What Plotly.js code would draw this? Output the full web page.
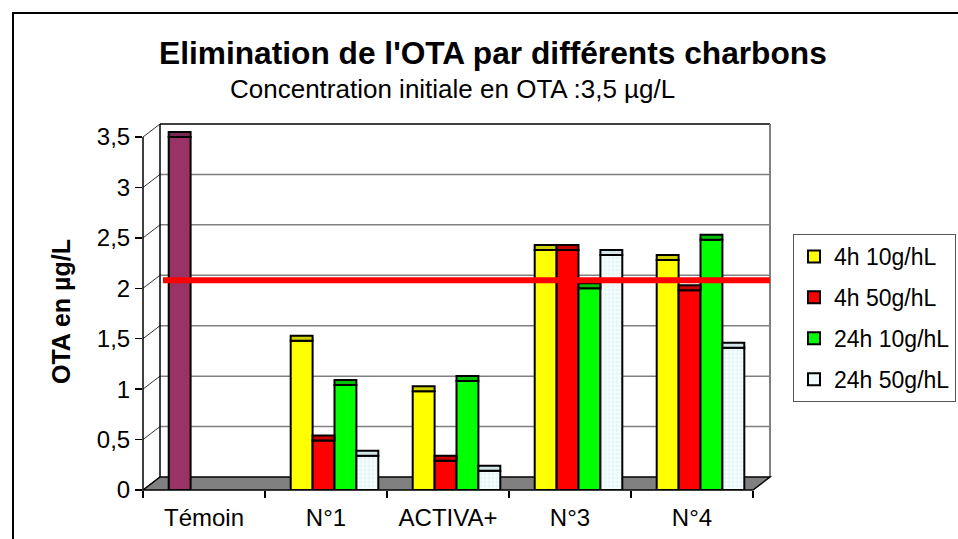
<!DOCTYPE html>
<html>
<head>
<meta charset="utf-8">
<script src="https://cdn.plot.ly/plotly-3.0.1.min.js"></script>
<style>html,body{margin:0;padding:0;background:#fff;}#chart{width:958px;height:539px;}</style>
</head>
<body>
<div id="chart"></div>
<script>
// ---- data ----
const categories = ['Témoin', 'N°1', 'ACTIVA+', 'N°3', 'N°4'];
const temoinValue = [3.5, null, null, null, null];
const s4h10 = [null, 1.48, 0.98, 2.38, 2.28];
const s4h50 = [null, 0.49, 0.29, 2.38, 1.98];
const s24h10 = [null, 1.04, 1.08, 2.0, 2.48];
const s24h50 = [null, 0.34, 0.19, 2.33, 1.41];
const seriesNames = ['4h 10g/hL', '4h 50g/hL', '24h 10g/hL', '24h 50g/hL'];
const yTickVals = [0, 0.5, 1, 1.5, 2, 2.5, 3, 3.5];
const seuil = 2.08;

// ---- layout geometry (pixels) ----
const L = 143, R = 770, T = 124, B = 490;
const W = R - L, H = B - T;
const DX = 17, DY = 13;             // depth offset front -> back wall
const yTopFront = 137;               // pixel of 3.5 on the front axis
const unit = (B - yTopFront) / 3.5;  // px per y unit
const yMax = 3.5 + (yTopFront - T) / unit;
const catW = (R - DX - L) / 5;       // px per category on front axis
const xMax = -0.5 + W / catW;
const barShift = 8.5 / catW;         // bars sit at mid depth
const px = x => (x - L) / W;
const py = y => (B - y) / H;
const dyU = DY / unit;
const capH = 5 / unit;               // height of the 3D lid on each bar

const FONT = 'Liberation Sans, Arial, sans-serif';
const colors = ['#FFFF00', '#FF0000', '#00FF00', '#EEF9FB'];
const capColors = ['#CFCF00', '#C80000', '#00C000', '#D4E6EA'];
const seriesVals = [s4h10, s4h50, s24h10, s24h50];
const groupFrac = 0.718;
const xRangeBars = [-0.5 - barShift, xMax - barShift];

const traces = [];
// invisible trace that defines the category axis used for labels
traces.push({type: 'scatter', x: categories, y: categories.map(() => 0), xaxis: 'x', yaxis: 'y',
  mode: 'markers', marker: {opacity: 0}, showlegend: false, hoverinfo: 'skip'});

seriesVals.forEach((vals, i) => {
  const t = {type: 'bar', name: seriesNames[i], x: categories, y: vals, xaxis: 'x2', yaxis: 'y',
    legendgroup: 'g' + i,
    marker: {color: colors[i], line: {color: '#000', width: 2}}, hoverinfo: 'skip'};
  if (i === 3) {
    t.marker.pattern = {shape: '+', fgcolor: '#C9EEF3', bgcolor: '#F7FDFE', size: 4, solidity: 0.2};
  }
  traces.push(t);
});
// lids of the bars (same grouping on an overlaid axis)
seriesVals.forEach((vals, i) => {
  traces.push({type: 'bar', x: categories, y: vals.map(v => v == null ? null : capH), base: vals,
    xaxis: 'x4', yaxis: 'y', showlegend: false, hoverinfo: 'skip',
    marker: {color: capColors[i], line: {color: '#000', width: 2}}});
});
// Témoin bar, sitting in the first slot of its group
traces.push({type: 'bar', name: 'Témoin', x: categories, y: temoinValue, xaxis: 'x3', yaxis: 'y',
  width: groupFrac / 4, offset: -groupFrac / 2, showlegend: false, hoverinfo: 'skip',
  marker: {color: '#993366', line: {color: '#000', width: 2}}});
traces.push({type: 'bar', x: categories, y: temoinValue.map(v => v == null ? null : capH), base: temoinValue,
  xaxis: 'x3', yaxis: 'y', width: groupFrac / 4, offset: -groupFrac / 2, showlegend: false, hoverinfo: 'skip',
  marker: {color: '#7A2A52', line: {color: '#000', width: 2}}});

const shapes = [];
// outer frame
shapes.push({type: 'rect', xref: 'paper', yref: 'paper', x0: px(13), x1: px(1100), y0: py(13), y1: py(700),
  line: {color: '#000', width: 2}, fillcolor: 'rgba(0,0,0,0)', layer: 'below'});
// back wall gridlines
yTickVals.forEach(v => {
  if (v > 0 && v < 3.5) {
    shapes.push({type: 'line', xref: 'paper', yref: 'y', x0: px(L + DX), x1: px(R), y0: v + dyU, y1: v + dyU,
      line: {color: '#808080', width: 1.5}, layer: 'below'});
  }
  // diagonal from front tick to back wall
  shapes.push({type: 'line', xref: 'paper', yref: 'y', x0: px(L), x1: px(L + DX), y0: v, y1: v + dyU,
    line: {color: '#333', width: 1}, layer: 'below'});
});
// back wall edges
shapes.push({type: 'line', xref: 'paper', yref: 'paper', x0: px(L + DX), x1: px(R), y0: py(T), y1: py(T), line: {color: '#000', width: 1.5}, layer: 'below'});
shapes.push({type: 'line', xref: 'paper', yref: 'paper', x0: px(L + DX), x1: px(L + DX), y0: py(T), y1: py(B - DY), line: {color: '#000', width: 1.5}, layer: 'below'});
shapes.push({type: 'line', xref: 'paper', yref: 'paper', x0: px(R), x1: px(R), y0: py(T), y1: py(B - DY), line: {color: '#808080', width: 2}, layer: 'below'});
// front left axis line
shapes.push({type: 'line', xref: 'paper', yref: 'paper', x0: px(L), x1: px(L), y0: py(yTopFront), y1: py(B), line: {color: '#000', width: 1.5}, layer: 'below'});
// floor
shapes.push({type: 'path', xref: 'paper', yref: 'paper',
  path: `M${px(L)},${py(B)} L${px(L + DX)},${py(B - DY)} L${px(R)},${py(B - DY)} L${px(R - DX)},${py(B)} Z`,
  fillcolor: '#808080', line: {color: '#000', width: 1.5}, layer: 'below'});
// threshold red line
shapes.push({type: 'line', xref: 'paper', yref: 'y', x0: px(163), x1: px(R), y0: seuil, y1: seuil,
  line: {color: '#FF0000', width: 6}, layer: 'above'});

const annotations = [
  {text: "<b>Elimination de l'OTA par différents charbons</b>", xref: 'paper', yref: 'paper',
   x: px(493), y: py(53), xanchor: 'center', yanchor: 'middle', showarrow: false,
   font: {family: FONT, size: 31.7, color: '#000'}},
  {text: 'Concentration initiale en OTA :3,5 µg/L', xref: 'paper', yref: 'paper',
   x: px(452), y: py(89), xanchor: 'center', yanchor: 'middle', showarrow: false,
   font: {family: FONT, size: 26, color: '#000'}},
  {text: '<b>OTA en µg/L</b>', xref: 'paper', yref: 'paper', textangle: -90,
   x: px(61), y: py(312), xanchor: 'center', yanchor: 'middle', showarrow: false,
   font: {family: FONT, size: 25, color: '#000'}}
];

const layout = {
  width: 958, height: 539,
  margin: {l: L, r: 958 - R, t: T, b: 539 - B, autoexpand: false},
  paper_bgcolor: '#fff', plot_bgcolor: 'rgba(0,0,0,0)',
  separators: ', ',
  showlegend: true,
  hovermode: false,
  barmode: 'group', bargap: 1 - groupFrac, bargroupgap: 0,
  font: {family: FONT, size: 24, color: '#000'},
  xaxis: {type: 'category', range: [-0.5, xMax], tickson: 'boundaries', ticks: 'outside', ticklen: 7,
    tickwidth: 1.5, tickcolor: '#000', showgrid: false, zeroline: false, showline: false,
    ticklabelstandoff: 11,
    tickfont: {family: FONT, size: 24, color: '#000'}, fixedrange: true},
  xaxis2: {type: 'category', overlaying: 'x', anchor: 'y', range: xRangeBars, visible: false, fixedrange: true},
  xaxis3: {type: 'category', overlaying: 'x', anchor: 'y', range: xRangeBars, visible: false, fixedrange: true},
  xaxis4: {type: 'category', overlaying: 'x', anchor: 'y', range: xRangeBars, visible: false, fixedrange: true},
  yaxis: {range: [0, yMax], tickmode: 'array', tickvals: yTickVals, ticks: 'outside', ticklen: 7,
    tickwidth: 1.5, tickcolor: '#000', showgrid: false, zeroline: false, showline: false,
    tickfont: {family: FONT, size: 24, color: '#000'}, fixedrange: true},
  legend: {x: px(793), xanchor: 'left', y: py(234), yanchor: 'top', bgcolor: '#fff',
    bordercolor: '#555', borderwidth: 1, font: {family: FONT, size: 23, color: '#000'},
    traceorder: 'grouped', tracegroupgap: 8},
  shapes: shapes,
  annotations: annotations
};

Plotly.newPlot('chart', traces, layout, {staticPlot: true, displayModeBar: false});
</script>
</body>
</html>
